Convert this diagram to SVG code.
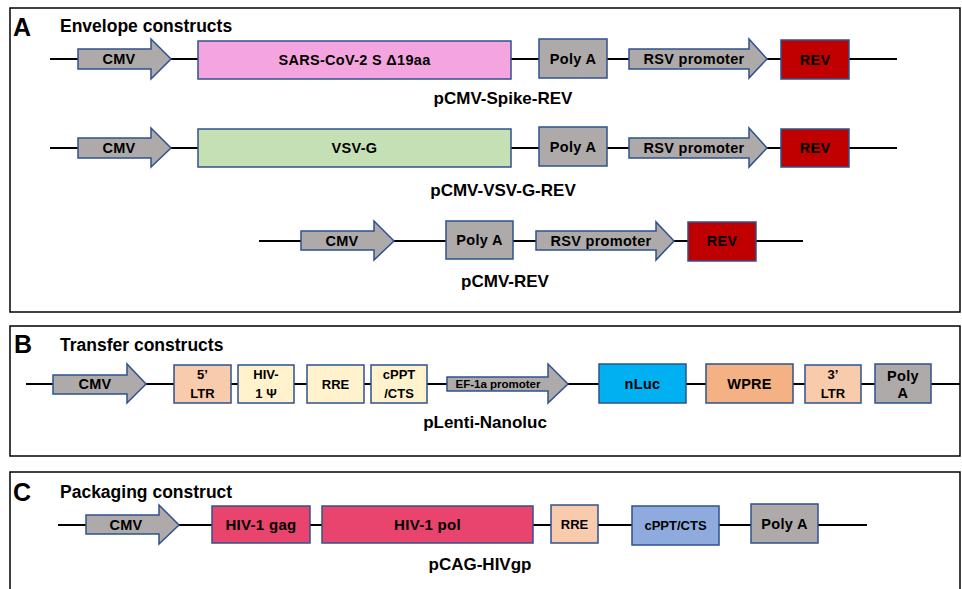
<svg xmlns="http://www.w3.org/2000/svg" width="962" height="589" viewBox="0 0 962 589">
<style>
text{font-family:"Liberation Sans",Arial,sans-serif;font-weight:bold;fill:#000}
.panel{fill:none;stroke:#000;stroke-width:1.5}
.bb{stroke:#2f528f;stroke-width:1.5}
.gray{fill:#aeaaaa}
.ln{stroke:#000;stroke-width:2;fill:none}
.hd{font-size:17.5px}
.let{font-size:25px}
.lab{font-size:17px;text-anchor:middle}
.n{font-size:14.5px;text-anchor:middle;letter-spacing:0.3px}
.s{font-size:13px;text-anchor:middle}
</style>
<rect class="panel" x="10" y="8" width="950" height="304"/>
<rect class="panel" x="10" y="326" width="950" height="130"/>
<rect class="panel" x="10" y="472" width="950" height="130"/>
<text class="let" x="13" y="36">A</text>
<text class="hd" x="60" y="32">Envelope constructs</text>
<text class="let" x="14" y="353">B</text>
<text class="hd" x="60" y="351">Transfer constructs</text>
<text class="let" x="13" y="501">C</text>
<text class="hd" x="60" y="498">Packaging construct</text>
<g id="connectors">
<line class="ln" x1="50" y1="59" x2="897" y2="59"/>
<line class="ln" x1="50" y1="148" x2="897" y2="148"/>
<line class="ln" x1="259" y1="241" x2="803" y2="241"/>
<line class="ln" x1="26" y1="384" x2="960" y2="384"/>
<line class="ln" x1="58" y1="525" x2="867" y2="525"/>
</g>
<g id="a1-cmv"><polygon class="gray bb" points="78,49 151,49 151,39 171,59 151,79 151,69 78,69"/><text class="n" x="119" y="64">CMV</text></g>
<g id="a1-spike"><rect class="bb" fill="#f4a5df" x="198" y="41" width="313" height="38"/><text class="n" x="354.5" y="65">SARS-CoV-2 S Δ19aa</text></g>
<g id="a1-polya"><rect class="gray bb" x="539" y="39" width="68" height="39"/><text class="n" x="573" y="64">Poly A</text></g>
<g id="a1-rsv"><polygon class="gray bb" points="629,49 749,49 749,39 767,59 749,78 749,69 629,69"/><text class="n" x="694" y="64">RSV promoter</text></g>
<g id="a1-rev"><rect class="bb" fill="#c00000" x="781" y="40" width="68" height="39"/><text class="n" x="815" y="65">REV</text></g>
<text class="lab" x="503" y="104">pCMV-Spike-REV</text>

<g id="a2-cmv"><polygon class="gray bb" points="78,138 151,138 151,128 171,148 151,167 151,158 78,158"/><text class="n" x="119" y="153">CMV</text></g>
<g id="a2-vsvg"><rect class="bb" fill="#c5e0b4" x="198" y="129" width="313" height="38"/><text class="n" x="354.5" y="153">VSV-G</text></g>
<g id="a2-polya"><rect class="gray bb" x="539" y="127" width="68" height="39"/><text class="n" x="573" y="152">Poly A</text></g>
<g id="a2-rsv"><polygon class="gray bb" points="629,138 749,138 749,128 767,148 749,167 749,158 629,158"/><text class="n" x="694" y="153">RSV promoter</text></g>
<g id="a2-rev"><rect class="bb" fill="#c00000" x="781" y="129" width="68" height="38"/><text class="n" x="815" y="153">REV</text></g>
<text class="lab" x="503" y="196">pCMV-VSV-G-REV</text>

<g id="a3-cmv"><polygon class="gray bb" points="301,231 374,231 374,221 394,241 374,260 374,250 301,250"/><text class="n" x="342" y="246">CMV</text></g>
<g id="a3-polya"><rect class="gray bb" x="446" y="221" width="67" height="38"/><text class="n" x="479.5" y="245">Poly A</text></g>
<g id="a3-rsv"><polygon class="gray bb" points="536,231 656,231 656,222 674,241 656,260 656,250 536,250"/><text class="n" x="601" y="246">RSV promoter</text></g>
<g id="a3-rev"><rect class="bb" fill="#c00000" x="688" y="222" width="68" height="39"/><text class="n" x="722" y="246">REV</text></g>
<text class="lab" x="505" y="287">pCMV-REV</text>

<g id="b-cmv"><polygon class="gray bb" points="53,375 127,375 127,364 146,384 127,403 127,394 53,394"/><text class="n" x="95" y="389">CMV</text></g>
<g id="b-5ltr"><rect class="bb" fill="#f8cbad" x="174" y="365" width="57" height="38"/><text class="s" x="202.5" y="379">5’</text><text class="s" x="202.5" y="398">LTR</text></g>
<g id="b-psi"><rect class="bb" fill="#fff2cc" x="238" y="365" width="56" height="38"/><text class="s" x="266" y="379">HIV-</text><text class="s" x="266" y="398">1 Ψ</text></g>
<g id="b-rre"><rect class="bb" fill="#fff2cc" x="307" y="365" width="57" height="38"/><text class="s" x="335.5" y="389">RRE</text></g>
<g id="b-cppt"><rect class="bb" fill="#fff2cc" x="371" y="365" width="56" height="38"/><text class="s" x="399" y="379">cPPT</text><text class="s" x="399" y="398">/CTS</text></g>
<g id="b-ef1a"><polygon class="gray bb" points="447,377 548,377 548,364 568,384 548,403 548,391 447,391"/><text x="498" y="388" style="font-size:11.5px;text-anchor:middle">EF-1a promoter</text></g>
<g id="b-nluc"><rect class="bb" fill="#00b0f0" x="599" y="364" width="87" height="39"/><text class="n" x="642.5" y="389">nLuc</text></g>
<g id="b-wpre"><rect class="bb" fill="#f4b183" x="706" y="364" width="87" height="39"/><text class="n" x="749.5" y="389">WPRE</text></g>
<g id="b-3ltr"><rect class="bb" fill="#f8cbad" x="805" y="365" width="56" height="38"/><text class="s" x="833" y="379">3’</text><text class="s" x="833" y="398">LTR</text></g>
<g id="b-polya"><rect class="gray bb" x="875" y="364" width="56" height="39"/><text class="n" x="903" y="381">Poly</text><text class="n" x="903" y="398">A</text></g>
<text class="lab" x="485" y="428">pLenti-Nanoluc</text>

<g id="c-cmv"><polygon class="gray bb" points="86,515 159,515 159,505 179,525 159,544 159,534 86,534"/><text class="n" x="126" y="530">CMV</text></g>
<g id="c-gag"><rect class="bb" fill="#e8446d" x="212" y="506" width="98" height="37"/><text class="n" x="261" y="530" style="font-size:15px">HIV-1 gag</text></g>
<g id="c-pol"><rect class="bb" fill="#e8446d" x="322" y="506" width="211" height="37"/><text class="n" x="427.5" y="530" style="font-size:15px">HIV-1 pol</text></g>
<g id="c-rre"><rect class="bb" fill="#f8cbad" x="551" y="505" width="47" height="38"/><text class="s" x="574.5" y="529">RRE</text></g>
<g id="c-cppt"><rect class="bb" fill="#8faadc" x="632" y="506" width="87" height="39"/><text class="s" x="675.5" y="530">cPPT/CTS</text></g>
<g id="c-polya"><rect class="gray bb" x="751" y="504" width="67" height="39"/><text class="n" x="784.5" y="529">Poly A</text></g>
<text class="lab" x="480" y="570">pCAG-HIVgp</text>
</svg>
